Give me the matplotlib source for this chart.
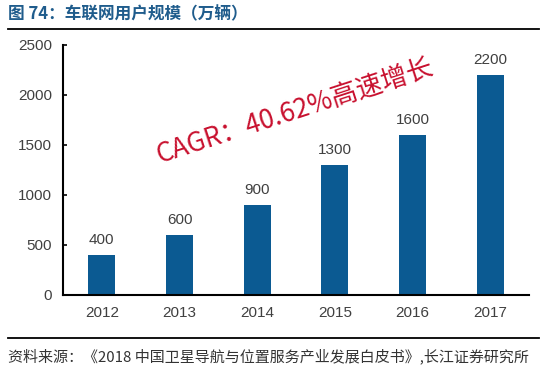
import matplotlib
matplotlib.use("Agg")
import matplotlib.pyplot as plt
from matplotlib.lines import Line2D

# Data
years = ["2012", "2013", "2014", "2015", "2016", "2017"]
users = [400, 600, 900, 1300, 1600, 2200]
yticks = [0, 500, 1000, 1500, 2000, 2500]

title = "图 74：车联网用户规模（万辆）"
note = "CAGR：40.62%高速增长"
source = "资料来源：《2018 中国卫星导航与位置服务产业发展白皮书》,长江证券研究所"

bar_color = "#0B5A92"
text_gray = "#404040"

plt.rcParams["font.family"] = ["Liberation Sans", "Noto Sans CJK SC", "DejaVu Sans"]

fig = plt.figure(figsize=(5.5, 3.69), dpi=100)
ax = fig.add_axes([63 / 550, 1 - 295 / 369, 466 / 550, 250 / 369])

x = range(len(years))
ax.bar(x, users, width=0.35, color=bar_color, zorder=2)
for xi, v in zip(x, users):
    ax.annotate(str(v), (xi, v), xytext=(0, 6), textcoords="offset points",
                ha="center", va="bottom", fontsize=11, color=text_gray)

ax.set_xlim(-0.5, len(years) - 0.5)
ax.set_ylim(0, 2500)
ax.set_xticks(list(x))
ax.set_xticklabels(years)
ax.set_yticks(yticks)
ax.tick_params(axis="x", length=0, pad=8, labelsize=11, labelcolor=text_gray)
ax.tick_params(axis="y", direction="in", length=3, width=1.2, pad=8,
               labelsize=11, labelcolor=text_gray)
for s in ["top", "right"]:
    ax.spines[s].set_visible(False)
for s in ["left", "bottom"]:
    ax.spines[s].set_linewidth(1.5)
    ax.spines[s].set_color("black")

# rotated CAGR note
fig.text(295 / 550, 1 - 112 / 369, note, rotation=18, rotation_mode="anchor",
         ha="center", va="center", fontsize=19, color="#C8102E",
         family=["Noto Sans CJK SC", "DejaVu Sans"], fontweight="light")

# header and footer
fig.text(8 / 550, 1 - 14 / 369, title, ha="left", va="center", fontsize=12,
         color="#1F5C8C", fontweight="bold",
         family=["Noto Sans CJK SC", "DejaVu Sans"])
fig.add_artist(Line2D([8 / 550, 539 / 550], [1 - 29 / 369, 1 - 29 / 369],
                      color="black", linewidth=1.3))
fig.add_artist(Line2D([8 / 550, 539 / 550], [1 - 338 / 369, 1 - 338 / 369],
                      color="black", linewidth=1.3))
fig.text(8 / 550, 1 - 356 / 369, source, ha="left", va="center", fontsize=10.8,
         color="#333333", family=["Noto Sans CJK SC", "DejaVu Sans"])

fig.savefig("out.png", dpi=100)
